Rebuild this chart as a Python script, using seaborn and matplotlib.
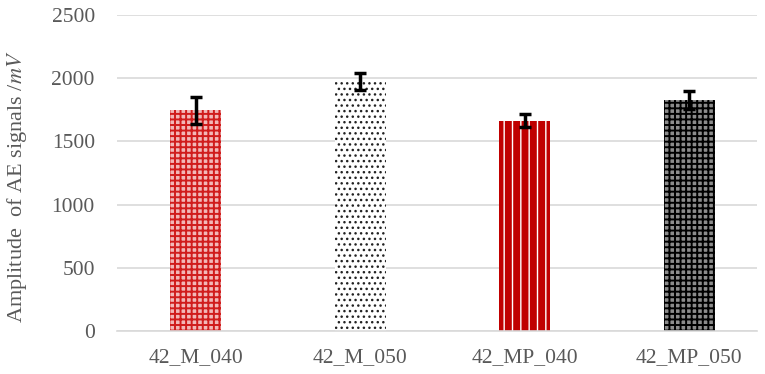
import pandas as pd
import matplotlib
matplotlib.use("Agg")
import matplotlib.pyplot as plt
import seaborn as sns

# data
samples = ["42_M_040", "42_M_050", "42_MP_040", "42_MP_050"]
amplitude = [1745, 1975, 1665, 1825]
amplitude_err = [105, 67, 51, 70]

# fill style for each bar: face, hatch colour, hatch, hatch width
faces = ["#f2b8b8", "white", "#c00000", "#8c8c8c"]
hatch_colors = ["#d01c1c", "#222222", "white", "black"]
hatches = ["+++", "...", "||", "+++"]
hatch_widths = [1.4, 1.0, 1.0, 1.4]

sns.set_theme(style="white")
plt.rcParams["font.family"] = ["Liberation Serif", "DejaVu Serif"]
plt.rcParams["mathtext.fontset"] = "stix"

df = pd.DataFrame({"sample": samples, "amp": amplitude})

fig = plt.figure(figsize=(7.65, 3.74), dpi=100)
ax = fig.add_axes([0.153, 0.115, 0.836, 0.845])

sns.barplot(data=df, x="sample", y="amp", hue="sample", palette=faces,
            saturation=1, width=0.31, legend=False, ax=ax)

for bar, hc, h, hw in zip(ax.patches, hatch_colors, hatches, hatch_widths):
    bar.set_hatch(h)
    bar.set_edgecolor(hc)
    bar.set_linewidth(0)
    if hasattr(bar, "set_hatch_linewidth"):
        bar.set_hatch_linewidth(hw)

ax.errorbar(range(len(samples)), amplitude, yerr=amplitude_err, fmt="none",
            ecolor="black", elinewidth=2.5, capsize=4.5, capthick=2.5, zorder=5)

ax.set_ylim(0, 2500)
ax.set_yticks(range(0, 2501, 500))
ax.set_xlim(-0.48, 3.41)
ax.yaxis.grid(True, color="#d9d9d9", linewidth=1.2)
ax.set_axisbelow(True)
for side in ["left", "right", "top"]:
    ax.spines[side].set_visible(False)
ax.spines["bottom"].set_color("#d9d9d9")
ax.spines["bottom"].set_linewidth(1.2)

ax.tick_params(axis="y", length=0, labelsize=15.5, colors="#595959", pad=16)
ax.tick_params(axis="x", length=0, labelsize=15.5, colors="#595959", pad=12)
ax.set_xlabel("")
ax.set_ylabel(r"Amplitude  of AE signals /$\mathit{mV}$", fontsize=16,
              color="#595959")
ax.yaxis.set_label_coords(-0.137, 0.455)

fig.savefig("out.png", dpi=100)
